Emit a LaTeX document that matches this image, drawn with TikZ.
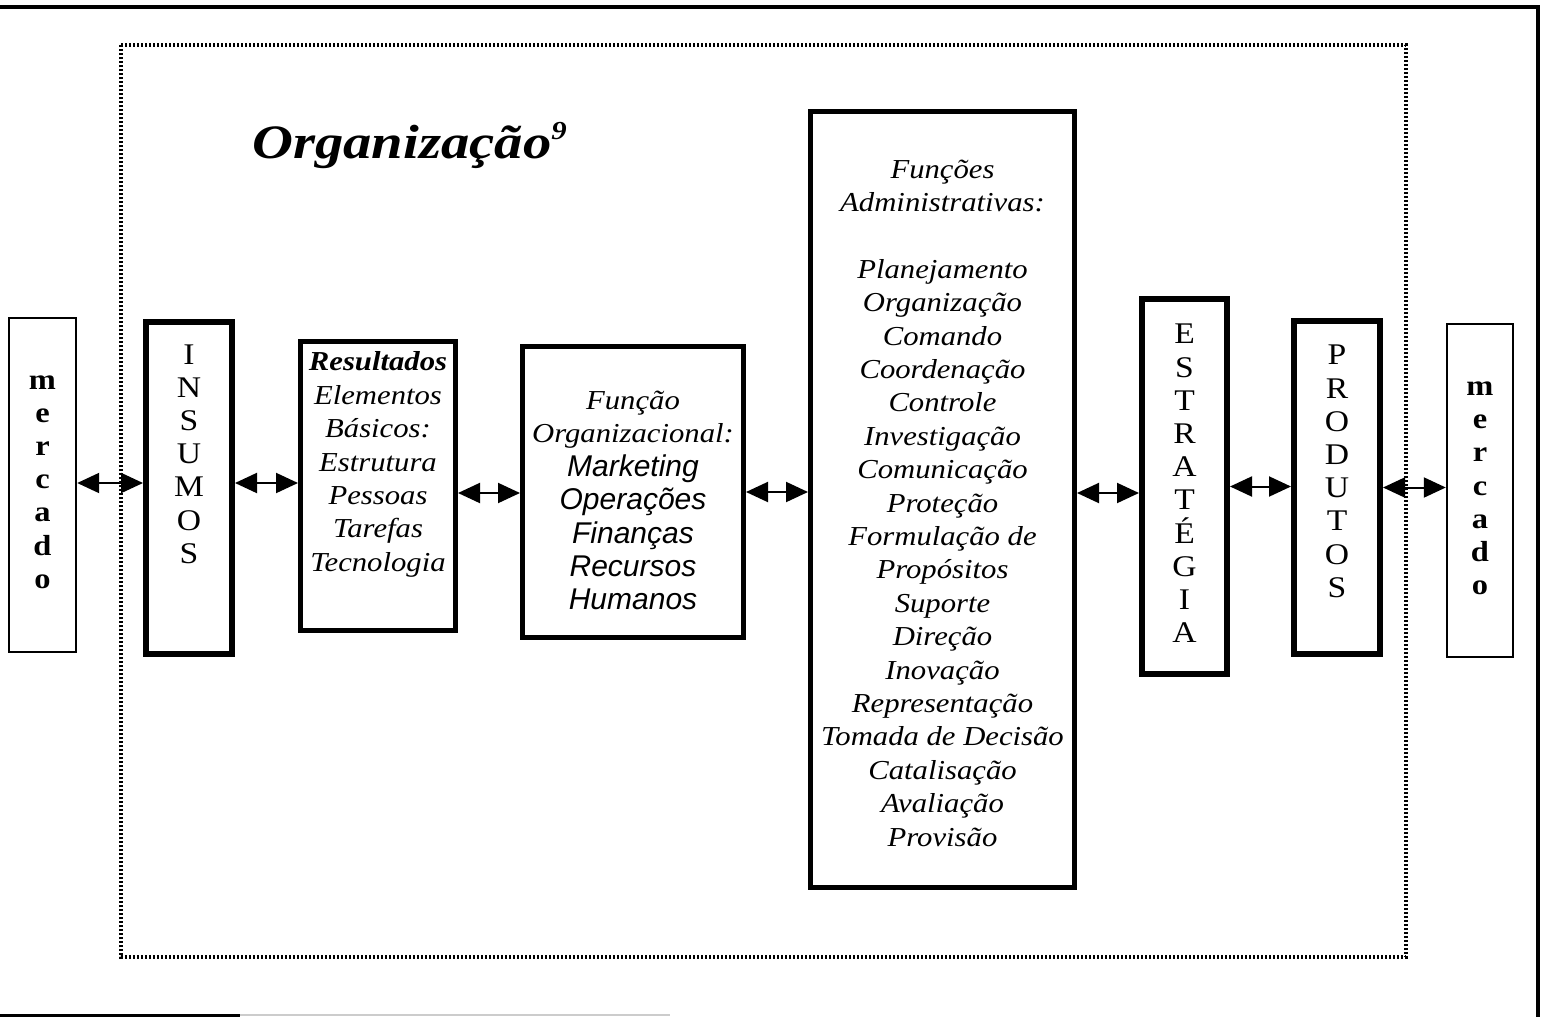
\documentclass[tikz,border=0pt]{standalone}
\usepackage{fontspec}
\usepackage{graphicx}
\setmainfont{Liberation Serif}
\setsansfont{Liberation Sans}
\newfontfamily\wideserif[FakeStretch=1.12]{Liberation Serif}
\newfontfamily\titleserif[FakeStretch=1.18]{Liberation Serif}
\usetikzlibrary{arrows.meta}
\newcommand\sansit{\fontsize{15}{16.7}\selectfont\sffamily\itshape}
\begin{document}
\begin{tikzpicture}[x=0.5pt,y=-0.5pt,
  thinbox/.style={draw, line width=1.2pt, inner sep=0pt},
  thickbox/.style={draw, line width=3pt, inner sep=0pt},
  midbox/.style={draw, line width=2.5pt, inner sep=0pt},
  lbl/.style={align=center, inner sep=0pt, font=\wideserif\fontsize{13.7}{16.7}\selectfont\itshape},
  vert/.style={align=center, inner sep=0pt, font=\wideserif\fontsize{15}{16.6}\selectfont},
  vertb/.style={vert, font=\wideserif\fontsize{14.5}{16.6}\selectfont\bfseries},
  link/.style={{Triangle[length=11pt,width=10pt]}-{Triangle[length=11pt,width=10pt]}, line width=1pt}]
\useasboundingbox (0,0) rectangle (1546,1017);

% page edges
\draw[line width=2pt] (0,6.5) -- (1537.5,6.5) -- (1537.5,1017);
\draw[line width=1.5pt] (0,1015) -- (240,1015);
\draw[line width=1pt, gray!40] (240,1015) -- (670,1015);

% organisation boundary
\draw[line width=1.6pt, dash pattern=on 1.1pt off 0.9pt] (121,45) rectangle (1406,957);

% title
\node[anchor=base west, inner sep=0pt, font=\titleserif\fontsize{24}{28}\selectfont\bfseries\itshape] (title) at (252,158)
  {Organização\raisebox{9.5pt}{\fontsize{13}{13}\selectfont 9}};

% boxes
\node[thinbox, minimum width=33.5pt, minimum height=167pt] (mL) at (42.5,485) {};
\node[thickbox, minimum width=43pt, minimum height=166pt] (ins) at (189,488) {};
\node[midbox, minimum width=77.5pt, minimum height=144.5pt] (res) at (378,486) {};
\node[midbox, minimum width=110.5pt, minimum height=145.5pt] (fo) at (633,492) {};
\node[midbox, minimum width=132pt, minimum height=388pt] (fa) at (942.5,499.5) {};
\node[thickbox, minimum width=42.5pt, minimum height=187.5pt] (est) at (1184.5,486.5) {};
\node[thickbox, minimum width=43pt, minimum height=166.5pt] (prod) at (1337,487.5) {};
\node[thinbox, minimum width=33pt, minimum height=166.5pt] (mR) at (1480,490.5) {};

% box texts
\node[vertb] (mLt) at (42.5,482) {m\\e\\r\\c\\a\\d\\o};
\node[vert] (inst) at (189,454) {I\\N\\S\\U\\M\\O\\S};
\node[lbl] (rest) at (378,464.5) {\textbf{Resultados}\\Elementos\\Básicos:\\Estrutura\\Pessoas\\Tarefas\\Tecnologia};
\node[lbl] (fot) at (633,500.5) {Função\\Organizacional:\\{\sansit Marketing}\\{\sansit Operações}\\{\sansit Finanças}\\{\sansit Recursos}\\{\sansit Humanos}};
\node[lbl] (fat) at (942.5,503) {Funções\\Administrativas:\\[16.7pt]Planejamento\\Organização\\Comando\\Coordenação\\Controle\\Investigação\\Comunicação\\Proteção\\Formulação de\\Propósitos\\Suporte\\Direção\\Inovação\\Representação\\Tomada de Decisão\\Catalisação\\Avaliação\\Provisão};
\node[vert] (estt) at (1184.5,483.5) {E\\S\\T\\R\\A\\T\\É\\G\\I\\A};
\node[vert] (prodt) at (1337,471.5) {P\\R\\O\\D\\U\\T\\O\\S};
\node[vertb] (mRt) at (1480,488.5) {m\\e\\r\\c\\a\\d\\o};

% connectors
\coordinate (a1) at ([yshift=1pt]mL.east);
\coordinate (a2) at ([yshift=2.5pt]ins.east);
\coordinate (a3) at ([yshift=-3.5pt]res.east);
\coordinate (a5) at ([yshift=3.25pt]fa.east);
\draw[link] (a1) -- (a1 -| ins.west);
\draw[link] (a2) -- (a2 -| res.west);
\draw[link] (a3) -- (a3 -| fo.west);
\draw[link] (fo.east) -- (fo.east -| fa.west);
\draw[link] (a5) -- (a5 -| est.west);
\draw[link] (est.east) -- (est.east -| prod.west);
\draw[link] (prod.east) -- (prod.east -| mR.west);
\end{tikzpicture}
\end{document}
